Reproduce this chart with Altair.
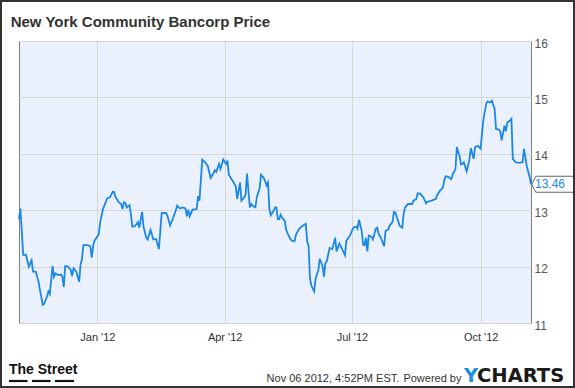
import altair as alt
import pandas as pd

chart_title = "New York Community Bancorp Price"
stamp_text = "Nov 06 2012, 4:52PM EST."
powered_text = "Powered by"
brand_y = "Y"
brand_rest = "CHARTS"
street_text = "The Street"

x_label_dates = ["2012-01-01", "2012-04-01", "2012-07-01", "2012-10-01"]
y_ticks = [11, 12, 13, 14, 15, 16]

dates = (
    ["2011-11-" + d for d in ["06", "07", "09", "11", "13", "15", "16", "18", "20", "21", "23", "24", "26", "27", "28", "30"]]
    + ["2011-12-" + d for d in ["01", "02", "04", "06", "07", "08", "09", "11", "13", "14", "15", "17", "19", "20", "21", "22", "25", "27", "28", "29", "30"]]
    + ["2012-01-" + d for d in ["02", "03", "05", "08", "10", "12", "13", "14", "16", "18", "19", "20", "21", "22", "24", "25", "26", "28", "30", "31"]]
    + ["2012-02-" + d for d in ["02", "03", "05", "06", "08", "10", "12", "14", "16", "19", "20", "22", "24", "26", "27", "29"]]
    + ["2012-03-" + d for d in ["02", "04", "05", "06", "07", "09", "12", "13", "14", "16", "18", "20", "22", "24", "25", "26", "28", "29", "31"]]
    + ["2012-04-" + d for d in ["02", "03", "04", "07", "09", "10", "12", "13", "15", "16", "17", "19", "20", "21", "23", "24", "26", "27", "29", "30"]]
    + ["2012-05-" + d for d in ["01", "02", "03", "04", "06", "07", "08", "09", "10", "11", "12", "14", "15", "16", "18", "19", "21", "22", "24", "26", "29", "30", "31"]]
    + ["2012-06-" + d for d in ["01", "02", "04", "05", "07", "08", "10", "11", "12", "13", "15", "17", "19", "20", "22", "24", "26", "27", "28", "30"]]
    + ["2012-07-" + d for d in ["02", "04", "05", "06", "08", "09", "10", "11", "12", "13", "15", "16", "18", "19", "20", "22", "24", "25", "27", "28", "30", "31"]]
    + ["2012-08-" + d for d in ["01", "03", "04", "06", "07", "08", "10", "13", "14", "16", "17", "19", "21", "23", "24", "27", "30", "31"]]
    + ["2012-09-" + d for d in ["02", "03", "04", "05", "06", "08", "10", "11", "13", "14", "16", "17", "18", "19", "21", "23", "24", "26", "27", "29"]]
    + ["2012-10-" + d for d in ["01", "02", "03", "05", "06", "08", "09", "11", "12", "14", "15", "16", "18", "19", "20", "22", "23", "24", "26", "28", "31"]]
    + ["2012-11-" + d for d in ["01", "03", "05", "06"]]
)

prices = (
    [12.84, 13.03, 12.21, 12.21, 12.00, 12.11, 11.91, 11.91, 11.73, 11.58, 11.32, 11.34, 11.47, 11.56, 11.51, 12.01]
    + [11.82, 11.88, 11.85, 11.86, 11.82, 11.64, 12.01, 12.00, 11.94, 11.83, 11.97, 11.91, 11.73, 12.04, 12.13, 12.38, 12.38, 12.36, 12.16, 12.37, 12.46]
    + [12.57, 12.78, 13.02, 13.21, 13.23, 13.33, 13.32, 13.23, 13.15, 13.11, 13.02, 13.14, 13.13, 13.05, 13.09, 12.93, 12.71, 12.72, 12.79, 12.69]
    + [12.97, 12.71, 12.51, 12.48, 12.65, 12.48, 12.49, 12.31, 12.95, 12.95, 12.91, 12.73, 12.85, 12.99, 13.08, 13.03]
    + [13.05, 13.03, 12.89, 13.01, 12.89, 13.01, 13.02, 13.25, 13.17, 13.90, 13.85, 13.78, 13.57, 13.65, 13.71, 13.68, 13.82, 13.73, 13.90]
    + [13.82, 13.88, 13.63, 13.51, 13.42, 13.20, 13.49, 13.17, 13.23, 13.28, 13.65, 13.05, 13.11, 13.08, 13.05, 13.23, 13.39, 13.63, 13.57, 13.51]
    + [13.44, 13.49, 13.02, 12.91, 12.99, 13.05, 13.05, 12.84, 12.84, 12.92, 12.87, 12.81, 12.65, 12.59, 12.49, 12.46, 12.45, 12.57, 12.66, 12.71, 12.76, 12.45, 12.37]
    + [11.79, 11.66, 11.56, 11.79, 11.94, 12.14, 12.01, 11.82, 12.06, 12.09, 12.33, 12.31, 12.51, 12.27, 12.41, 12.31, 12.20, 12.46, 12.49, 12.57]
    + [12.69, 12.71, 12.67, 12.83, 12.63, 12.39, 12.38, 12.51, 12.27, 12.55, 12.53, 12.48, 12.67, 12.69, 12.59, 12.49, 12.36, 12.63, 12.66, 12.73, 12.79, 12.97]
    + [12.96, 12.81, 12.73, 12.69, 12.95, 13.05, 13.11, 13.11, 13.17, 13.20, 13.30, 13.29, 13.23, 13.12, 13.15, 13.17, 13.20, 13.27]
    + [13.35, 13.37, 13.40, 13.53, 13.60, 13.59, 13.55, 13.63, 13.73, 14.12, 13.95, 13.81, 13.82, 13.85, 13.69, 13.90, 14.10, 13.91, 14.12, 14.14]
    + [14.09, 14.37, 14.61, 14.89, 14.93, 14.91, 14.94, 14.80, 14.44, 14.43, 14.40, 14.24, 14.50, 14.40, 14.55, 14.59, 14.62, 13.91, 13.85, 13.84, 13.85]
    + [14.09, 13.78, 13.59, 13.46]
)

df = pd.DataFrame({"date": dates, "price": prices})
last = df.tail(1)

LINE = "#1B87E6"
FONT = "Liberation Sans"


def dt(s):
    y, m, d = (int(p) for p in s.split("-"))
    return alt.DateTime(year=y, month=m, date=d, utc=True)


x_enc = alt.X(
    "date:T",
    scale=alt.Scale(type="utc", domain=[dt("2011-11-06"), dt("2012-11-06")]),
    axis=alt.Axis(
        values=[dt(s) for s in x_label_dates],
        format="%b '%y",
        title=None,
        grid=True,
        gridColor="#D6D6D6",
        domain=False,
        ticks=False,
        tickSize=0,
        labelPadding=8,
        labelFont=FONT,
        labelFontSize=11,
        labelColor="#333333",
    ),
)

y_enc = alt.Y(
    "price:Q",
    scale=alt.Scale(domain=[11, 16], nice=False, zero=False),
    axis=alt.Axis(
        orient="right",
        values=y_ticks,
        title=None,
        grid=True,
        gridColor="#D6D6D6",
        domain=False,
        ticks=False,
        tickSize=0,
        labelPadding=3,
        labelOffset=2,
        labelFont=FONT,
        labelFontSize=12,
        labelColor="#555555",
        labelOverlap=False,
        labelBound=False,
    ),
)

line = alt.Chart(df).mark_line(color=LINE, strokeWidth=1.8).encode(x=x_enc, y=y_enc)

box = alt.Chart(last).mark_point(
    shape="M-1,0 L-0.81,-0.378 L1,-0.378 L1,0.378 L-0.81,0.378 Z",
    size=1789,
    filled=True,
    fill="white",
    stroke="#666666",
    strokeWidth=1,
    opacity=1,
).encode(x=alt.value(533.9), y=y_enc)

last_label = alt.Chart(last).mark_text(
    align="left", baseline="middle", font=FONT, fontSize=12, color=LINE
).encode(x=alt.value(516), y=y_enc, text=alt.Text("price:Q", format=".2f"))


def text_layer(t, x, y, **kw):
    return alt.Chart(pd.DataFrame({"t": [t]})).mark_text(
        align="left", baseline="alphabetic", **kw
    ).encode(x=alt.value(x), y=alt.value(y), text="t:N")


title = text_layer(chart_title, -8.3, -14.3, font=FONT, fontSize=15, fontWeight="bold", color="#333333")
stamp = text_layer(stamp_text, 247.6, 341.3, font=FONT, fontSize=11, color="#333333")
powered = text_layer(powered_text, 384.4, 341.3, font=FONT, fontSize=11, color="#333333")
ylogo = text_layer(brand_y, 445, 341.3, font="DejaVu Sans", fontSize=19.5, fontWeight="bold", color="#1A8FDD")
clogo = text_layer(brand_rest, 458, 341.3, font="DejaVu Sans", fontSize=19.5, fontWeight="bold", color="#1A1A1A")
street = text_layer(street_text, -10, 332.5, font=FONT, fontSize=14, fontWeight="bold", color="#111111")

one = pd.DataFrame({"k": [0]})
dashes = [
    alt.Chart(one).mark_rule(color="#111111", strokeWidth=2.2).encode(
        x=alt.value(a), x2=alt.value(b), y=alt.value(340)
    )
    for a, b in [(-10, 8.5), (13, 31.6), (36, 55)]
]

frame = alt.Chart(one).mark_rect(
    fill="white", fillOpacity=0, stroke="#333333", strokeWidth=2
).encode(x=alt.value(-18), x2=alt.value(555), y=alt.value(-40), y2=alt.value(346))

chart = (
    alt.layer(line, box, last_label, title, stamp, powered, ylogo, clogo, street, *dashes, frame)
    .properties(
        width=512,
        height=282,
        autosize=alt.AutoSizeParams(type="none"),
        padding={"left": 19, "top": 41, "right": 44, "bottom": 65},
        background="white",
    )
    .configure_view(fill="#EAF1FD", stroke="#808080", strokeWidth=1)
)

chart.save("out.html", embed_options={"renderer": "svg", "actions": False})
